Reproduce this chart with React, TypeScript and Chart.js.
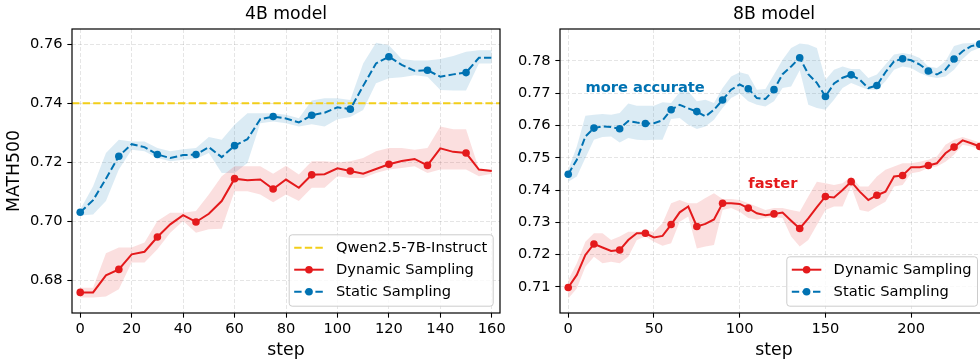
import React, { useEffect, useRef } from 'react';
import { Chart, registerables } from 'chart.js';

Chart.register(...registerables);

const FONT_FAMILY = "'DejaVu Sans', 'Liberation Sans', sans-serif";
const BLUE = '#0072B2';
const RED = '#E41A1C';
const GOLD = '#F2CE1A';
const BLUE_BAND = 'rgba(0,114,178,0.14)';
const RED_BAND = 'rgba(228,26,28,0.14)';
const GRID = 'rgba(0,0,0,0.13)';

// ---------- 4B model ----------
const steps4B = [0, 5, 10, 15, 20, 25, 30, 35, 40, 45, 50, 55, 60, 65, 70, 75, 80, 85, 90, 95, 100, 105, 110, 115, 120, 125, 130, 135, 140, 145, 150, 155, 160];
const dynamic4B = [0.6758, 0.6758, 0.6816, 0.6836, 0.6887, 0.6896, 0.6946, 0.6989, 0.7020, 0.6997, 0.7025, 0.7068, 0.7144, 0.7139, 0.7141, 0.7109, 0.7141, 0.7113, 0.7157, 0.7159, 0.7179, 0.7170, 0.7161, 0.7177, 0.7193, 0.7204, 0.7211, 0.7189, 0.7247, 0.7235, 0.7231, 0.7175, 0.7170];
const dynamic4BLow = [0.6741, 0.6741, 0.6744, 0.6769, 0.6859, 0.6859, 0.6904, 0.6960, 0.7000, 0.6960, 0.6972, 0.6974, 0.7101, 0.7101, 0.7090, 0.7064, 0.7090, 0.7068, 0.7113, 0.7113, 0.7152, 0.7146, 0.7146, 0.7163, 0.7175, 0.7180, 0.7186, 0.7163, 0.7175, 0.7175, 0.7175, 0.7152, 0.7161];
const dynamic4BHigh = [0.6774, 0.6774, 0.6891, 0.6910, 0.6910, 0.6927, 0.7000, 0.7028, 0.7028, 0.7034, 0.7090, 0.7152, 0.7186, 0.7186, 0.7186, 0.7161, 0.7188, 0.7158, 0.7203, 0.7203, 0.7199, 0.7203, 0.7214, 0.7237, 0.7248, 0.7248, 0.7242, 0.7248, 0.7321, 0.7312, 0.7312, 0.7177, 0.7175];
const static4B = [0.7030, 0.7071, 0.7144, 0.7220, 0.7261, 0.7251, 0.7226, 0.7214, 0.7224, 0.7226, 0.7251, 0.7217, 0.7256, 0.7278, 0.7346, 0.7355, 0.7348, 0.7335, 0.7359, 0.7368, 0.7386, 0.7380, 0.7459, 0.7535, 0.7558, 0.7530, 0.7510, 0.7512, 0.7490, 0.7498, 0.7504, 0.7554, 0.7554];
const static4BLow = [0.7019, 0.7022, 0.7068, 0.7175, 0.7242, 0.7237, 0.7214, 0.7203, 0.7208, 0.7211, 0.7231, 0.7163, 0.7163, 0.7197, 0.7332, 0.7338, 0.7332, 0.7321, 0.7329, 0.7321, 0.7346, 0.7353, 0.7377, 0.7468, 0.7485, 0.7488, 0.7495, 0.7490, 0.7445, 0.7443, 0.7443, 0.7535, 0.7535];
const static4BHigh = [0.7039, 0.7118, 0.7231, 0.7276, 0.7270, 0.7270, 0.7248, 0.7237, 0.7244, 0.7248, 0.7285, 0.7276, 0.7327, 0.7366, 0.7366, 0.7366, 0.7361, 0.7349, 0.7409, 0.7417, 0.7417, 0.7411, 0.7535, 0.7605, 0.7597, 0.7550, 0.7545, 0.7545, 0.7550, 0.7560, 0.7575, 0.7580, 0.7580];
const baseline4B = 0.74;
const xTicks4B = [0, 20, 40, 60, 80, 100, 120, 140, 160];
const yTicks4B = [0.68, 0.70, 0.72, 0.74, 0.76];

// ---------- 8B model ----------
const steps8B = [0, 5, 10, 15, 20, 25, 30, 35, 40, 45, 50, 55, 60, 65, 70, 75, 80, 85, 90, 95, 100, 105, 110, 115, 120, 125, 130, 135, 140, 145, 150, 155, 160, 165, 170, 175, 180, 185, 190, 195, 200, 205, 210, 215, 220, 225, 230, 235, 240];
const dynamic8B = [0.7098, 0.7137, 0.7199, 0.7233, 0.7222, 0.7211, 0.7214, 0.7245, 0.7266, 0.7266, 0.7253, 0.7258, 0.7293, 0.7331, 0.7349, 0.7287, 0.7295, 0.7309, 0.7359, 0.7359, 0.7357, 0.7344, 0.7328, 0.7322, 0.7326, 0.7330, 0.7305, 0.7281, 0.7312, 0.7347, 0.7380, 0.7377, 0.7400, 0.7426, 0.7395, 0.7369, 0.7384, 0.7395, 0.7442, 0.7445, 0.7471, 0.7471, 0.7476, 0.7483, 0.7514, 0.7533, 0.7554, 0.7545, 0.7535];
const dynamic8BLow = [0.7064, 0.7095, 0.7162, 0.7193, 0.7173, 0.7178, 0.7173, 0.7193, 0.7245, 0.7256, 0.7240, 0.7227, 0.7235, 0.7302, 0.7318, 0.7219, 0.7225, 0.7230, 0.7338, 0.7344, 0.7333, 0.7313, 0.7309, 0.7313, 0.7316, 0.7313, 0.7256, 0.7225, 0.7245, 0.7292, 0.7338, 0.7349, 0.7349, 0.7411, 0.7338, 0.7333, 0.7349, 0.7364, 0.7411, 0.7416, 0.7452, 0.7457, 0.7468, 0.7473, 0.7488, 0.7509, 0.7540, 0.7535, 0.7525];
const dynamic8BHigh = [0.7121, 0.7173, 0.7240, 0.7266, 0.7266, 0.7245, 0.7256, 0.7271, 0.7271, 0.7274, 0.7271, 0.7297, 0.7359, 0.7369, 0.7359, 0.7359, 0.7375, 0.7390, 0.7372, 0.7372, 0.7369, 0.7359, 0.7349, 0.7338, 0.7344, 0.7344, 0.7338, 0.7333, 0.7380, 0.7426, 0.7421, 0.7416, 0.7421, 0.7442, 0.7411, 0.7411, 0.7442, 0.7463, 0.7473, 0.7483, 0.7483, 0.7488, 0.7494, 0.7504, 0.7540, 0.7556, 0.7564, 0.7556, 0.7547];
const static8B = [0.7449, 0.7494, 0.7566, 0.7592, 0.7597, 0.7595, 0.7590, 0.7614, 0.7609, 0.7606, 0.7607, 0.7616, 0.7649, 0.7664, 0.7653, 0.7643, 0.7628, 0.7649, 0.7679, 0.7711, 0.7727, 0.7714, 0.7685, 0.7682, 0.7711, 0.7759, 0.7783, 0.7810, 0.7759, 0.7732, 0.7690, 0.7730, 0.7748, 0.7757, 0.7742, 0.7716, 0.7724, 0.7765, 0.7799, 0.7807, 0.7802, 0.7789, 0.7769, 0.7758, 0.7773, 0.7806, 0.7830, 0.7846, 0.7852];
const static8BLow = [0.7426, 0.7442, 0.7499, 0.7556, 0.7564, 0.7566, 0.7547, 0.7561, 0.7556, 0.7554, 0.7556, 0.7556, 0.7620, 0.7623, 0.7602, 0.7589, 0.7597, 0.7618, 0.7654, 0.7685, 0.7699, 0.7675, 0.7664, 0.7659, 0.7675, 0.7716, 0.7721, 0.7771, 0.7664, 0.7654, 0.7649, 0.7680, 0.7716, 0.7732, 0.7721, 0.7711, 0.7711, 0.7737, 0.7773, 0.7783, 0.7778, 0.7763, 0.7752, 0.7747, 0.7752, 0.7773, 0.7806, 0.7830, 0.7840];
const static8BHigh = [0.7463, 0.7535, 0.7630, 0.7633, 0.7636, 0.7633, 0.7639, 0.7668, 0.7661, 0.7661, 0.7661, 0.7672, 0.7670, 0.7704, 0.7706, 0.7675, 0.7680, 0.7670, 0.7716, 0.7752, 0.7765, 0.7758, 0.7711, 0.7713, 0.7758, 0.7804, 0.7840, 0.7854, 0.7851, 0.7840, 0.7742, 0.7773, 0.7783, 0.7775, 0.7775, 0.7747, 0.7758, 0.7789, 0.7820, 0.7825, 0.7820, 0.7809, 0.7783, 0.7778, 0.7799, 0.7846, 0.7854, 0.7856, 0.7858];
const xTicks8B = [0, 50, 100, 150, 200];
const yTicks8B = [0.71, 0.72, 0.73, 0.74, 0.75, 0.76, 0.77, 0.78];

const LABEL_BASELINE = 'Qwen2.5-7B-Instruct';
const LABEL_DYNAMIC = 'Dynamic Sampling';
const LABEL_STATIC = 'Static Sampling';

type Note = { text: string; x: number; y: number; color: string };

type Panel = {
  title: string;
  steps: number[];
  dyn: number[]; dynLo: number[]; dynHi: number[];
  sta: number[]; staLo: number[]; staHi: number[];
  baseline: number | null;
  xMin: number; xMax: number; yMin: number; yMax: number;
  xTicks: number[]; yTicks: number[];
  yLabel: string | null;
  notes: Note[];
  canvasLeft: number; canvasWidth: number; areaLeft: number; areaRight: number;
  legendInset: number;
};

const panels: Panel[] = [
  {
    title: '4B model', steps: steps4B,
    dyn: dynamic4B, dynLo: dynamic4BLow, dynHi: dynamic4BHigh,
    sta: static4B, staLo: static4BLow, staHi: static4BHigh,
    baseline: baseline4B,
    xMin: -3.2, xMax: 163.2, yMin: 0.6688, yMax: 0.7652,
    xTicks: xTicks4B, yTicks: yTicks4B, yLabel: 'MATH500', notes: [],
    canvasLeft: 0, canvasWidth: 512, areaLeft: 72, areaRight: 500, legendInset: 7.3,
  },
  {
    title: '8B model', steps: steps8B,
    dyn: dynamic8B, dynLo: dynamic8BLow, dynHi: dynamic8BHigh,
    sta: static8B, staLo: static8BLow, staHi: static8BHigh,
    baseline: null,
    xMin: -4.8, xMax: 244.8, yMin: 0.7019, yMax: 0.7899,
    xTicks: xTicks8B, yTicks: yTicks8B, yLabel: null,
    notes: [
      { text: 'more accurate', x: 10, y: 0.7705, color: BLUE },
      { text: 'faster', x: 105, y: 0.7405, color: RED },
    ],
    canvasLeft: 505, canvasWidth: 500, areaLeft: 55, areaRight: 483, legendInset: 11,
  },
];

const H = 361;
const TICK_FS = 14.67;
const LABEL_FS = 17.3;
const MARK_EVERY = 3;
const MARK_R = 3.8;
const DASH = [7.4, 3.2];

type LegendEntry = { label: string; color: string; dash: number[]; marker: boolean };

function makeDecor(p: Panel, entries: LegendEntry[]) {
  return {
    id: 'decor',
    afterDatasetsDraw(chart: any) {
      const { ctx, chartArea: a, scales } = chart;
      ctx.save();
      // annotations
      for (const n of p.notes) {
        ctx.font = `bold ${TICK_FS}px ${FONT_FAMILY}`;
        ctx.fillStyle = n.color;
        ctx.textAlign = 'left';
        ctx.textBaseline = 'alphabetic';
        ctx.fillText(n.text, scales.x.getPixelForValue(n.x), scales.y.getPixelForValue(n.y));
      }
      // legend
      ctx.font = `${TICK_FS}px ${FONT_FAMILY}`;
      const textW = Math.max(...entries.map((e) => ctx.measureText(e.label).width));
      const w = 5.9 + 29.3 + 11.7 + textW + 5.9;
      const h = 27.4 + 22 * (entries.length - 1);
      const right = a.right - p.legendInset;
      const bottom = a.bottom - 7.3;
      const left = right - w;
      const top = bottom - h;
      ctx.beginPath();
      if ((ctx as any).roundRect) (ctx as any).roundRect(left + 0.5, top + 0.5, w, h, 3);
      else ctx.rect(left + 0.5, top + 0.5, w, h);
      ctx.fillStyle = 'rgba(255,255,255,0.8)';
      ctx.fill();
      ctx.strokeStyle = '#cccccc';
      ctx.lineWidth = 1;
      ctx.stroke();
      entries.forEach((e, i) => {
        const cy = top + 13.4 + 22 * i;
        ctx.beginPath();
        ctx.setLineDash(e.dash);
        ctx.strokeStyle = e.color;
        ctx.lineWidth = 2;
        ctx.moveTo(left + 5.5, cy);
        ctx.lineTo(left + 35, cy);
        ctx.stroke();
        ctx.setLineDash([]);
        if (e.marker) {
          ctx.beginPath();
          ctx.arc(left + 20.3, cy, MARK_R, 0, Math.PI * 2);
          ctx.fillStyle = e.color;
          ctx.fill();
        }
        ctx.fillStyle = '#000';
        ctx.textAlign = 'left';
        ctx.textBaseline = 'middle';
        ctx.fillText(e.label, left + 47.3, cy + 0.5);
      });
      // frame
      ctx.strokeStyle = '#000';
      ctx.lineWidth = 1.2;
      ctx.strokeRect(a.left, a.top, a.right - a.left, a.bottom - a.top);
      ctx.restore();
    },
  };
}

function pts(steps: number[], vals: number[]) {
  return steps.map((s, i) => ({ x: s, y: vals[i] }));
}

function makeConfig(p: Panel): any {
  const markerRadius = (c: any) => (c.dataIndex % MARK_EVERY === 0 ? MARK_R : 0);
  const datasets: any[] = [
    { label: '', data: pts(p.steps, p.staLo), borderWidth: 0, pointRadius: 0, fill: false, order: 20 },
    { label: '', data: pts(p.steps, p.staHi), borderWidth: 0, pointRadius: 0, fill: '-1', backgroundColor: BLUE_BAND, order: 19 },
    { label: '', data: pts(p.steps, p.dynLo), borderWidth: 0, pointRadius: 0, fill: false, order: 18 },
    { label: '', data: pts(p.steps, p.dynHi), borderWidth: 0, pointRadius: 0, fill: '-1', backgroundColor: RED_BAND, order: 17 },
  ];
  const entries: LegendEntry[] = [];
  if (p.baseline !== null) {
    datasets.push({
      label: LABEL_BASELINE,
      data: [{ x: p.xMin, y: p.baseline }, { x: p.xMax, y: p.baseline }],
      borderColor: GOLD, borderWidth: 2, borderDash: DASH, pointRadius: 0, fill: false, order: 3,
    });
    entries.push({ label: LABEL_BASELINE, color: GOLD, dash: DASH, marker: false });
  }
  datasets.push({
    label: LABEL_DYNAMIC, data: pts(p.steps, p.dyn), borderColor: RED, borderWidth: 2,
    pointRadius: markerRadius, pointBackgroundColor: RED, pointBorderWidth: 0, fill: false, order: 2,
  });
  entries.push({ label: LABEL_DYNAMIC, color: RED, dash: [], marker: true });
  datasets.push({
    label: LABEL_STATIC, data: pts(p.steps, p.sta), borderColor: BLUE, borderWidth: 2, borderDash: DASH,
    pointRadius: markerRadius, pointBackgroundColor: BLUE, pointBorderWidth: 0, fill: false, order: 1,
  });
  entries.push({ label: LABEL_STATIC, color: BLUE, dash: DASH, marker: true });

  const tickFont = { family: FONT_FAMILY, size: TICK_FS };
  const labelFont = { family: FONT_FAMILY, size: LABEL_FS };
  return {
    type: 'line',
    data: { datasets },
    plugins: [makeDecor(p, entries)],
    options: {
      animation: false,
      responsive: false,
      devicePixelRatio: 1,
      events: [],
      elements: { line: { tension: 0 } },
      layout: { padding: { left: 0, top: 0, bottom: 0, right: p.canvasWidth - p.areaRight } },
      plugins: {
        legend: { display: false },
        tooltip: { enabled: false },
        title: {
          display: true, text: p.title, fullSize: false, color: '#000',
          font: { family: FONT_FAMILY, size: LABEL_FS, weight: 'normal', lineHeight: 1.2 },
          padding: { top: 4.4, bottom: 3.84 },
        },
      },
      scales: {
        x: {
          type: 'linear', min: p.xMin, max: p.xMax,
          afterBuildTicks: (s: any) => { s.ticks = p.xTicks.map((v) => ({ value: v })); },
          afterFit: (s: any) => { s.height = 48; },
          grid: { color: GRID, lineWidth: 0.8, drawTicks: true, tickLength: 4.67, tickColor: '#000', tickWidth: 1.07 },
          border: { display: false, dash: [4, 2] },
          ticks: { color: '#000', font: tickFont, padding: 2.8, maxRotation: 0, autoSkip: false, callback: (v: any) => String(v) },
          title: { display: true, text: 'step', color: '#000', font: labelFont, padding: { top: 0, bottom: 0.6 } },
        },
        y: {
          type: 'linear', min: p.yMin, max: p.yMax,
          afterBuildTicks: (s: any) => { s.ticks = p.yTicks.map((v) => ({ value: v })); },
          afterFit: (s: any) => { s.width = p.areaLeft; },
          grid: { color: GRID, lineWidth: 0.8, drawTicks: true, tickLength: 4.67, tickColor: '#000', tickWidth: 1.07 },
          border: { display: false, dash: [4, 2] },
          ticks: { color: '#000', font: tickFont, padding: 4.67, autoSkip: false, callback: (v: any) => Number(v).toFixed(2) },
          title: {
            display: p.yLabel !== null, text: p.yLabel || '', color: '#000', font: labelFont,
            padding: { top: 4.1, bottom: 0 },
          },
        },
      },
    },
  };
}

function PanelChart({ p }: { p: Panel }) {
  const ref = useRef<HTMLCanvasElement | null>(null);
  useEffect(() => {
    if (!ref.current) return;
    const chart = new Chart(ref.current, makeConfig(p));
    return () => chart.destroy();
  }, [p]);
  return (
    <canvas
      ref={ref}
      width={p.canvasWidth}
      height={H}
      style={{ position: 'absolute', left: p.canvasLeft, top: 0, width: p.canvasWidth, height: H }}
    />
  );
}

export default function App() {
  return (
    <div style={{ position: 'fixed', left: 0, top: 0, width: 980, height: H, overflow: 'hidden', background: '#fff' }}>
      {panels.map((p) => (
        <PanelChart key={p.title} p={p} />
      ))}
    </div>
  );
}
